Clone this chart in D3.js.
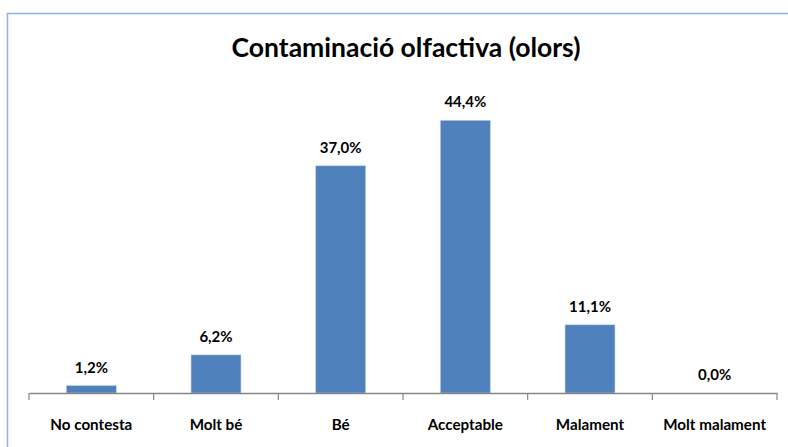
<!DOCTYPE html>
<html><head><meta charset="utf-8">
<script src="https://cdn.jsdelivr.net/npm/d3@7"></script>
<style>body{margin:0;background:#fff;}svg{display:block;}</style>
</head><body>
<script>
const categories = ["No contesta","Molt bé","Bé","Acceptable","Malament","Molt malament"];
const values = [1.2, 6.2, 37.0, 44.4, 11.1, 0.0];
const valueLabels = ["1,2%","6,2%","37,0%","44,4%","11,1%","0,0%"];
const title = "Contaminació olfactiva (olors)";

const W = 788, H = 447;
const svg = d3.select("body").append("svg").attr("width", W).attr("height", H);
const font = "Lato, 'Open Sans', sans-serif";

svg.append("rect").attr("x", 7.5).attr("y", 13.5).attr("width", 900).attr("height", 600)
  .attr("fill", "#fff").attr("stroke", "#8db3e2").attr("stroke-width", 1.5);

svg.append("text").attr("x", 406).attr("y", 57).attr("text-anchor", "middle")
  .attr("font-family", font).attr("font-weight", "bold").attr("font-size", 26.5)
  .attr("fill", "#000").text(title);

const x = d3.scaleBand().domain(categories).range([29, 777]).paddingInner(0.6).paddingOuter(0.3);
const y = d3.scaleLinear().domain([0, 50]).range([393, 86]);

svg.selectAll("rect.bar").data(values).enter().append("rect").attr("class", "bar")
  .attr("x", (d, i) => x(categories[i])).attr("width", x.bandwidth())
  .attr("y", d => y(d)).attr("height", d => y(0) - y(d))
  .attr("fill", "#4f81bd").attr("stroke", "#b9cde5").attr("stroke-width", 0.5);

const axis = d3.axisBottom(x).tickSize(0).tickPadding(0).tickFormat("");
const g = svg.append("g").attr("transform", "translate(0,393)").call(axis);
g.select(".domain").attr("stroke", "#868686").attr("stroke-width", 1.5);
const bounds = d3.range(categories.length + 1).map(i => 29 + i * (748 / categories.length));
g.selectAll("line.tk").data(bounds).enter().append("line").attr("class", "tk")
  .attr("x1", d => d).attr("x2", d => d).attr("y1", 0).attr("y2", 7)
  .attr("stroke", "#868686").attr("stroke-width", 1.2);

svg.selectAll("text.cat").data(categories).enter().append("text").attr("class", "cat")
  .attr("x", d => x(d) + x.bandwidth() / 2).attr("y", 430).attr("text-anchor", "middle")
  .attr("font-family", font).attr("font-weight", "bold").attr("font-size", 15.2)
  .attr("fill", "#000").text(d => d);

svg.selectAll("text.val").data(values).enter().append("text").attr("class", "val")
  .attr("x", (d, i) => x(categories[i]) + x.bandwidth() / 2).attr("y", d => y(d) - 13)
  .attr("text-anchor", "middle")
  .attr("font-family", font).attr("font-weight", "bold").attr("font-size", 15)
  .attr("fill", "#000").text((d, i) => valueLabels[i]);
</script>
</body></html>
